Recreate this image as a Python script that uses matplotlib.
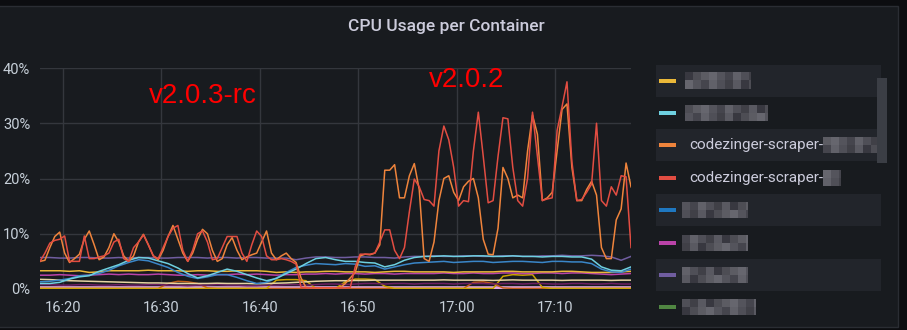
import pandas as pd
import matplotlib
matplotlib.use("Agg")
import matplotlib.pyplot as plt
import matplotlib.dates as mdates
from matplotlib.patches import Rectangle

W, H = 907, 330

# sample times (30 s for the scraper series, 1 min for the others)
t30 = pd.date_range("2024-01-01 16:17:40", periods=121, freq="30s")
t60 = pd.date_range("2024-01-01 16:17:40", periods=61, freq="60s")
t_edge = [t30[0], t30[-1]]

# CPU usage in %
scraper_a = [5.0, 5.2, 7.5, 9.5, 10.3, 6.5, 4.8, 5.5, 6.3, 9.0,
             10.5, 8.0, 5.3, 5.8, 7.5, 10.0, 8.5, 6.0, 5.0, 6.0,
             8.5, 9.9, 8.0, 6.0, 5.3, 7.0, 9.5, 11.5, 9.0, 6.5,
             5.0, 6.5, 9.0, 10.8, 10.0, 7.0, 5.0, 5.5, 8.0, 9.3,
             7.0, 5.3, 5.8, 6.2, 6.5, 8.5, 10.5, 6.5, 5.3, 6.0,
             6.5, 5.5, 4.8, 2.0, 0.3, 0.2, 0.2, 0.2, 0.2, 0.2,
             0.2, 0.3, 1.0, 2.0, 3.0, 6.0, 6.3, 6.2, 6.5, 8.0,
             21.5, 21.5, 22.5, 16.5, 16.5, 20.5, 22.7, 18.0, 5.5, 5.0,
             8.5, 16.0, 20.0, 20.5, 17.5, 16.0, 18.5, 19.5, 20.0, 16.5,
             9.0, 6.3, 6.2, 11.0, 22.0, 20.0, 16.5, 17.0, 16.5, 25.0,
             31.5, 28.0, 16.0, 16.5, 17.5, 25.0, 32.5, 33.5, 22.0, 16.0,
             16.0, 18.0, 19.5, 17.0, 7.5, 5.5, 5.5, 12.5, 14.5, 22.8,
             18.5]
scraper_b = [5.0, 6.5, 8.3, 8.8, 9.0, 9.6, 5.0, 5.0, 5.0, 9.6,
             5.5, 5.5, 5.8, 6.0, 6.5, 8.5, 9.0, 5.5, 5.0, 7.5,
             8.5, 9.8, 8.0, 6.0, 5.5, 7.5, 9.5, 11.0, 11.5, 7.0,
             5.0, 7.0, 10.0, 10.5, 8.5, 5.3, 5.5, 7.5, 9.5, 9.5,
             9.5, 6.5, 5.0, 8.0, 10.5, 9.5, 6.0, 5.3, 5.3, 5.5,
             5.3, 5.0, 4.5, 0.3, 0.2, 0.2, 0.2, 0.2, 0.2, 0.2,
             0.2, 0.2, 0.2, 0.3, 4.0, 6.3, 6.3, 6.3, 6.5, 8.5,
             10.7, 10.7, 7.0, 5.5, 7.5, 14.0, 19.9, 18.5, 16.2, 16.0,
             15.0, 25.0, 29.5, 27.0, 22.0, 15.0, 16.0, 15.8, 25.0, 32.0,
             24.0, 15.6, 16.0, 24.0, 31.0, 30.8, 22.0, 16.0, 15.0, 20.0,
             32.0, 24.0, 16.0, 16.3, 16.5, 28.7, 33.0, 37.5, 23.0, 16.0,
             16.2, 17.5, 19.0, 30.0, 16.0, 15.0, 18.5, 17.0, 20.5, 20.3,
             7.5]

light_blue = [1.0, 1.0, 1.2, 1.8, 2.2, 2.4, 3.2, 3.8, 4.4, 5.2,
              5.7, 5.6, 5.1, 4.6, 3.8, 2.8, 2.0, 2.4, 3.0, 3.6,
              3.2, 2.6, 2.0, 1.5, 1.9, 2.8, 3.6, 4.6, 5.5, 5.7,
              5.3, 5.0, 5.0, 4.8, 4.7, 4.0, 4.4, 5.2, 5.7, 5.9,
              5.9, 6.0, 5.9, 5.9, 6.0, 6.0, 5.9, 5.9, 6.0, 5.9,
              5.9, 5.8, 5.9, 5.9, 5.8, 5.8, 5.4, 4.0, 3.4, 3.3,
              4.0]
blue = [1.3, 1.4, 1.6, 1.9, 2.4, 2.5, 2.8, 3.4, 4.2, 4.8,
        5.3, 5.1, 4.5, 3.9, 3.0, 2.3, 1.9, 2.2, 2.6, 2.6,
        2.1, 1.5, 1.0, 1.2, 2.0, 3.0, 3.9, 4.3, 4.6, 4.5,
        4.4, 4.6, 4.5, 4.1, 4.2, 3.6, 4.0, 4.4, 4.7, 4.8,
        4.9, 5.0, 4.8, 4.9, 5.0, 5.0, 4.8, 4.9, 5.0, 5.0,
        4.9, 4.8, 5.0, 5.0, 4.9, 4.9, 4.6, 3.6, 3.1, 3.0,
        3.6]
purple = [5.7, 5.7, 5.6, 5.6, 5.7, 5.7, 5.6, 5.6, 5.7, 5.6,
          5.7, 5.7, 5.6, 5.6, 5.7, 5.7, 5.7, 5.6, 5.7, 5.7,
          5.6, 5.7, 5.7, 5.6, 5.6, 5.6, 5.3, 5.6, 5.8, 5.8,
          5.7, 5.7, 5.8, 5.8, 5.7, 5.7, 5.6, 5.8, 5.9, 5.9,
          6.0, 5.9, 5.9, 6.0, 6.0, 5.9, 5.9, 6.0, 6.0, 5.9,
          5.9, 6.0, 6.0, 6.1, 6.0, 6.0, 6.1, 6.0, 5.8, 5.2,
          5.9]
yellow = [3.3, 3.3, 3.3, 3.2, 3.3, 3.0, 3.1, 3.3, 3.3, 3.3,
          3.3, 3.4, 3.3, 3.3, 3.3, 3.2, 3.3, 3.3, 3.2, 3.2,
          3.3, 3.3, 3.3, 3.2, 3.0, 3.1, 3.0, 3.1, 3.1, 3.2,
          3.2, 3.1, 3.1, 3.1, 3.0, 3.1, 3.2, 3.2, 3.1, 3.1,
          3.1, 3.1, 3.0, 3.1, 3.1, 3.1, 3.1, 3.2, 3.2, 3.1,
          3.1, 3.1, 3.1, 3.2, 3.2, 3.1, 3.0, 3.0, 3.0, 3.1,
          3.2]
pink = [2.5, 2.5, 2.6, 2.5, 2.4, 2.5, 2.6, 2.7, 2.6, 2.7,
        2.6, 2.6, 2.7, 2.6, 2.5, 2.5, 2.6, 2.5, 2.6, 2.6,
        2.7, 2.6, 2.7, 2.6, 2.5, 2.6, 2.6, 2.7, 2.7, 2.8,
        2.7, 2.8, 2.8, 2.7, 2.8, 2.8, 2.7, 2.8, 2.8, 2.8,
        2.8, 2.9, 2.8, 2.8, 2.9, 2.8, 2.8, 2.9, 2.9, 2.8,
        2.8, 2.9, 2.9, 2.8, 2.9, 2.9, 2.8, 2.7, 2.6, 2.7,
        2.8]
beige = [1.75, 1.7, 1.6, 1.5, 1.45, 1.4, 1.35, 1.3, 1.25, 1.2,
         1.15, 1.1, 1.1, 1.05, 1.0, 1.0, 1.0, 1.0, 1.05, 1.0,
         1.0, 1.0, 0.95, 1.0, 1.05, 1.1, 1.2, 1.3, 1.4, 1.45,
         1.5, 1.5, 1.55, 1.55, 1.6, 1.6, 1.6, 1.6, 1.6, 1.6,
         1.6, 1.65, 1.6, 1.6, 1.6, 1.6, 1.55, 1.6, 1.65, 1.6,
         1.6, 1.6, 1.6, 1.55, 1.6, 1.6, 1.6, 1.6, 1.55, 1.6,
         1.6]
dark_purple = [0.8, 0.8, 0.7, 0.7, 0.8, 0.8, 0.7, 0.7, 0.8, 0.7,
               0.7, 0.8, 0.8, 0.7, 0.7, 0.6, 0.7, 0.7, 0.8, 0.7,
               0.7, 0.6, 0.6, 0.7, 0.7, 0.8, 0.8, 0.7, 0.8, 0.9,
               0.9, 0.8, 0.9, 1.0, 1.0, 0.9, 1.0, 1.0, 0.9, 1.0,
               1.0, 1.0, 0.9, 1.0, 1.0, 1.0, 0.9, 1.0, 1.0, 0.9,
               1.0, 1.0, 0.9, 0.9, 1.0, 1.0, 0.9, 0.9, 1.0, 0.9,
               0.9]
dark_yellow = [0.1, 0.1, 0.1, 0.1, 0.1, 0.1, 0.1, 0.1, 0.1, 0.1,
               0.1, 0.1, 0.1, 0.1, 0.1, 0.1, 0.1, 0.1, 0.1, 0.1,
               0.1, 0.1, 0.1, 0.1, 1.6, 1.7, 1.7, 1.5, 0.1, 0.1,
               0.1, 1.3, 1.8, 1.8, 1.7, 0.5, 0.1, 0.1, 0.1, 0.1,
               0.1, 0.1, 0.1, 0.1, 0.1, 0.1, 0.1, 2.3, 2.6, 2.5,
               2.6, 0.3, 0.1, 0.1, 0.1, 0.1, 0.1, 0.1, 0.1, 0.1,
               0.1]
dark_orange = [0.1, 0.1, 0.1, 0.1, 0.1, 0.1, 0.1, 0.1, 0.1, 0.1,
               0.1, 0.1, 0.1, 1.0, 1.4, 1.3, 1.0, 0.2, 0.1, 0.1,
               0.1, 0.1, 0.1, 0.1, 0.1, 0.1, 0.1, 0.1, 0.1, 0.1,
               0.1, 0.1, 0.1, 0.1, 0.1, 0.1, 0.1, 0.1, 0.1, 0.1,
               0.1, 0.1, 0.1, 0.1, 1.2, 1.3, 1.0, 0.2, 0.1, 0.1,
               0.1, 0.1, 0.1, 0.1, 0.1, 0.1, 0.1, 0.1, 0.1, 0.1,
               0.1]
bottom_pink = [0.25, 0.25]

legend_colors = ["#EAB839", "#6ED0E0", "#EF843C", "#E24D42",
                 "#1F78C1", "#BA43A9", "#705DA0", "#508642"]


def px(x):
    return x / W


def py(y):
    return 1 - y / H


fig = plt.figure(figsize=(W / 100, H / 100), dpi=100, facecolor="#0c0d10")
fig.patches.append(Rectangle((px(-5), py(327)), 903 / W, 321 / H, transform=fig.transFigure,
                             facecolor="#181b1f", edgecolor="#2a2d33", lw=1, zorder=-5))

ax = fig.add_axes([px(40), py(289), 591 / W, 221 / H])
ax.set_facecolor("none")

ax.plot(t_edge, bottom_pink, color="#E5A8E2", lw=2.6)
ax.plot(t60, dark_orange, color="#C15C17", lw=1.1)
ax.plot(t60, dark_yellow, color="#CCA300", lw=1.1)
ax.plot(t60, dark_purple, color="#6D1F62", lw=1.1)
ax.plot(t60, beige, color="#E6D3A3", lw=1.1)
ax.plot(t60, pink, color="#BA43A9", lw=1.1)
ax.plot(t60, yellow, color="#EAB839", lw=1.1)
ax.plot(t60, purple, color="#705DA0", lw=1.1)
ax.plot(t60, blue, color="#3A86C8", lw=1.1)
ax.plot(t60, light_blue, color="#6ED0E0", lw=1.1)
ax.plot(t30, scraper_a, color="#EF843C", lw=1.1)
ax.plot(t30, scraper_b, color="#E24D42", lw=1.1)

ax.set_xlim(t30[0], t30[-1])
ax.set_ylim(0, 40)
ax.set_yticks([0, 10, 20, 30, 40])
ax.set_yticklabels(["0%", "10%", "20%", "30%", "40%"])
ax.xaxis.set_major_locator(mdates.MinuteLocator(byminute=[0, 10, 20, 30, 40, 50]))
ax.xaxis.set_major_formatter(mdates.DateFormatter("%H:%M"))
ax.grid(True, color="#34373d", lw=1)
ax.set_axisbelow(True)
for s in ax.spines.values():
    s.set_visible(False)
ax.tick_params(length=0, labelsize=10.5, labelcolor="#c7d0d9")
ax.tick_params(axis="y", pad=7)
ax.tick_params(axis="x", pad=9)
for lab in ax.get_xticklabels() + ax.get_yticklabels():
    lab.set_family("Roboto")

fig.text(px(446), py(27), "CPU Usage per Container", ha="center", va="center",
         fontsize=12.5, color="#ccccdc", family="Roboto", weight="medium")

# version markers
fig.text(px(149), py(103), "v2.0.3-rc", color="#ff0000", fontsize=20,
         family="Liberation Sans", va="baseline")
fig.text(px(429), py(87), "v2.0.2", color="#ff0000", fontsize=20,
         family="Liberation Sans", va="baseline")

# legend
blur_spans = [(685, 751), (685, 768), (823, 877), (823, 841),
              (682, 748), (682, 748), (682, 748), (682, 756)]
shades = [0.22, 0.30, 0.36, 0.40, 0.33, 0.27, 0.38, 0.31, 0.25, 0.35]
for k, col in enumerate(legend_colors):
    yc = 80.5 + 32.4 * k
    if k % 2 == 0:
        fig.patches.append(Rectangle((px(656), py(yc + 16)), 225 / W, 32 / H,
                                     transform=fig.transFigure, facecolor="#22252b", lw=0))
    fig.patches.append(Rectangle((px(659), py(yc + 2)), 17 / W, 4 / H,
                                 transform=fig.transFigure, facecolor=col, lw=0))
    if k in (2, 3):
        fig.text(px(689), py(yc), "codezinger-scraper-", va="center", ha="left",
                 fontsize=11, color="#ccccdc", family="Roboto")
    x0, x1 = blur_spans[k]
    for r in range(2):
        xb = x0
        c = 0
        while xb < x1:
            g = shades[(3 * r + c + k) % len(shades)]
            fig.patches.append(Rectangle((px(xb), py(yc + 8 * r)), min(8, x1 - xb) / W, 8 / H,
                                         transform=fig.transFigure,
                                         facecolor=(g, g, g + 0.03), lw=0))
            xb += 8
            c += 1

# scrollbar
fig.patches.append(Rectangle((px(877), py(163)), 10 / W, 85 / H, transform=fig.transFigure,
                             facecolor="#3b3e45", lw=0))

fig.savefig("out.png", dpi=100, facecolor=fig.get_facecolor())
